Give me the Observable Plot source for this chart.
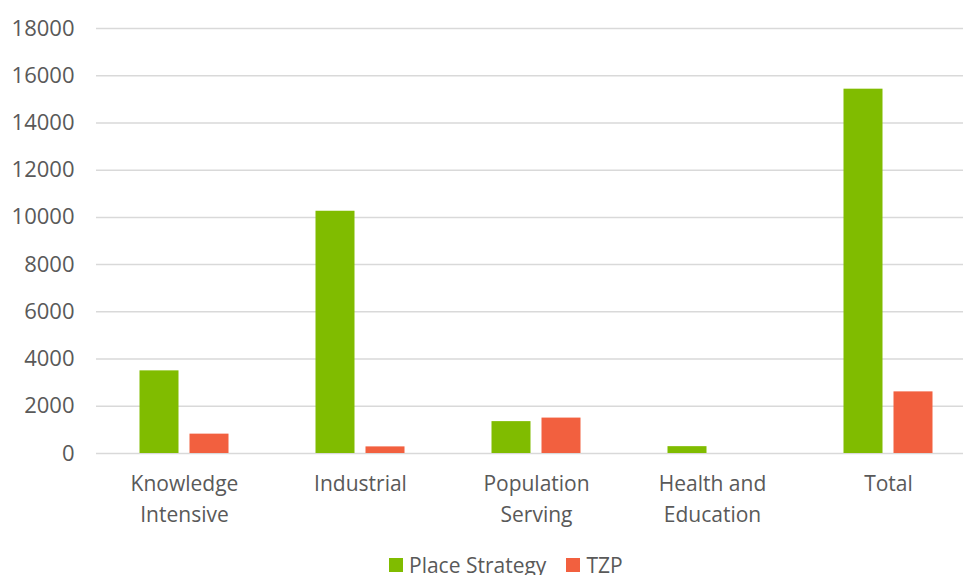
<!DOCTYPE html>
<html>
<head>
<meta charset="utf-8">
<script src="https://cdn.jsdelivr.net/npm/d3@7"></script>
<script src="https://cdn.jsdelivr.net/npm/@observablehq/plot@0.6"></script>
<style>
  html, body { margin: 0; padding: 0; background: #fff; }
  #wrap { position: relative; width: 963px; height: 575px; overflow: hidden; font-family: "Open Sans", sans-serif; }
  #legend { position: absolute; left: 389px; top: 551px; display: flex; align-items: center; font-size: 21px; color: #595959; white-space: nowrap; }
  .item { display: flex; align-items: center; margin-right: 20px; }
  .sw { width: 14px; height: 14px; margin-right: 6px; }
</style>
</head>
<body>
<div id="wrap"></div>
<script>
const categories = ["Knowledge\nIntensive", "Industrial", "Population\nServing", "Health and\nEducation", "Total"];
const series = ["Place Strategy", "TZP"];
const placeStrategy = [3500, 10260, 1350, 290, 15430];
const tzp = [820, 280, 1500, 0, 2610];
const colors = ["#80bc00", "#f2603f"];
const yTicks = [0, 2000, 4000, 6000, 8000, 10000, 12000, 14000, 16000, 18000];

const data = categories.flatMap((c, i) => [
  {cat: c, series: series[0], value: placeStrategy[i]},
  {cat: c, series: series[1], value: tzp[i]}
]);

const chart = Plot.plot({
  width: 963,
  height: 575,
  marginLeft: 95.5,
  marginRight: -12.5,
  marginTop: 28,
  marginBottom: 122,
  style: {fontFamily: "Open Sans", fontSize: "21px", color: "#595959", background: "white"},
  fx: {domain: categories, padding: 0, label: null},
  x: {domain: series, paddingInner: 0.22, paddingOuter: 0.87, axis: null},
  y: {domain: [0, 18000], label: null},
  color: {domain: series, range: colors},
  marks: [
    Plot.gridY(yTicks, {stroke: "#d9d9d9", strokeOpacity: 1, strokeWidth: 1.5}),
    Plot.axisY(yTicks, {tickSize: 0, tickPadding: 22, tickFormat: d3.format("d"), label: null, fill: "#595959", fontSize: 22}),
    Plot.axisFx({anchor: "bottom", tickSize: 0, tickPadding: 16, lineHeight: 1.45, label: null, fill: "#595959", fontSize: 21}),
    Plot.barY(data, {fx: "cat", x: "series", y: "value", fill: "series"})
  ]
});

const wrap = document.getElementById("wrap");
wrap.appendChild(chart);

const legend = document.createElement("div");
legend.id = "legend";
series.forEach((s, i) => {
  const item = document.createElement("div");
  item.className = "item";
  const sw = document.createElement("div");
  sw.className = "sw";
  sw.style.background = colors[i];
  const t = document.createElement("span");
  t.textContent = s;
  item.appendChild(sw);
  item.appendChild(t);
  legend.appendChild(item);
});
wrap.appendChild(legend);
</script>
</body>
</html>
